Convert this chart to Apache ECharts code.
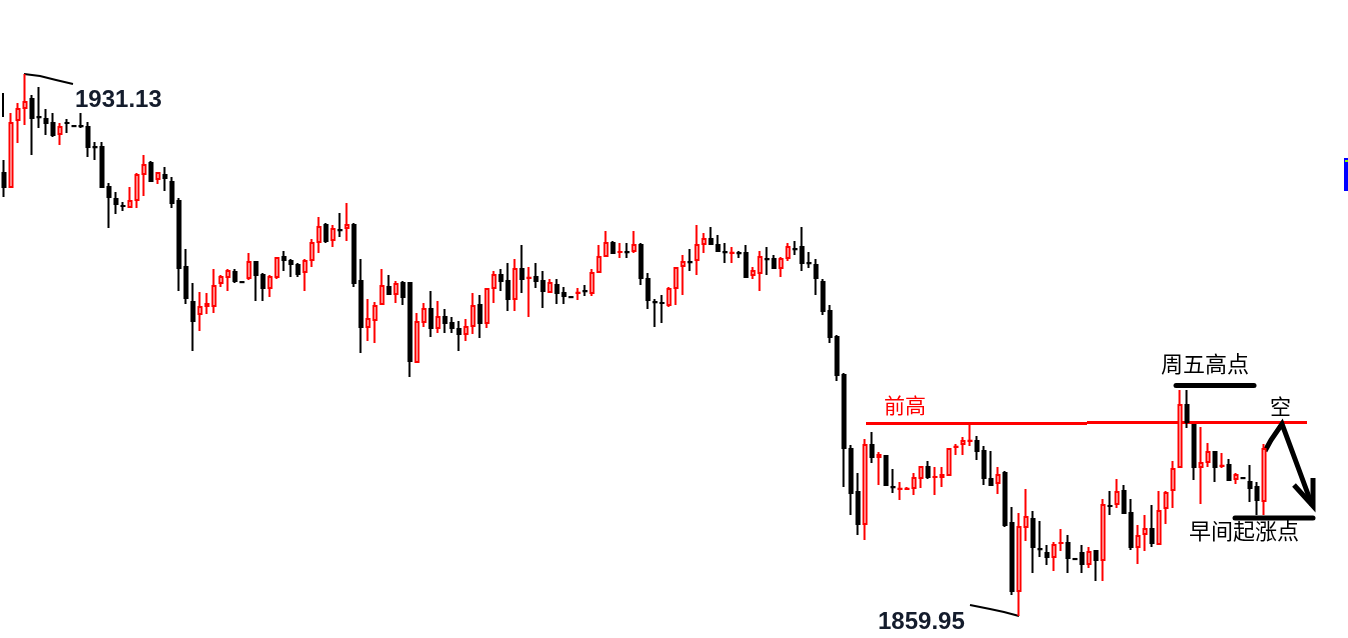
<!DOCTYPE html>
<html><head><meta charset="utf-8">
<script src="https://cdn.jsdelivr.net/npm/echarts@6/dist/echarts.min.js"></script>
<style>html,body{margin:0;padding:0;background:#fff;}#c{width:1348px;height:638px;}</style>
</head><body><div id="c"></div>
<script>
// Candle values, [index order]
const opens = [1918.13,1916.29,1925.09,1926.67,1927.85,1925.48,1925.22,1924.70,1923.25,1924.70,1924.30,1924.30,1924.17,1921.54,1921.54,1916.29,1914.71,1913.80,1913.67,1914.58,
1918.00,1919.44,1917.34,1917.87,1916.95,1914.45,1905.78,1901.19,1899.61,1900.66,1900.66,1903.68,1904.47,1905.13,1903.81,1904.34,1906.44,1904.73,1903.02,1904.47,
1907.10,1906.57,1906.05,1905.13,1906.70,1909.07,1911.30,1909.33,1910.64,1910.91,1911.30,1903.94,1897.90,1898.82,1900.93,1903.16,1902.24,1903.68,1903.68,1893.31,
1898.56,1900.27,1897.77,1899.22,1898.43,1897.64,1896.98,1898.04,1900.79,1898.43,1903.02,1904.73,1903.94,1901.58,1905.52,1904.34,1904.47,1903.94,1902.50,1903.42,
1902.37,1901.84,1902.37,1902.63,1902.37,1905.13,1907.23,1908.94,1907.75,1907.75,1907.89,1908.67,1904.21,1901.19,1901.06,1900.79,1903.02,1905.92,1906.44,1906.70,
1908.81,1909.46,1908.67,1907.75,1907.62,1907.62,1907.62,1904.73,1905.00,1906.83,1906.83,1905.65,1906.97,1908.15,1908.41,1906.31,1906.05,1903.81,1900.01,1896.59,
1891.60,1881.88,1876.23,1872.03,1882.41,1880.83,1880.96,1876.89,1876.63,1876.63,1876.76,1878.07,1879.52,1878.20,1878.20,1878.47,1882.15,1882.54,1882.93,1882.93,
1881.62,1877.94,1877.42,1878.73,1872.16,1863.24,1871.64,1872.69,1868.75,1868.22,1867.70,1869.53,1869.53,1867.44,1868.22,1866.78,1868.49,1867.30,1874.40,1874.66,
1876.37,1873.48,1869.01,1870.72,1871.37,1869.40,1874.13,1876.50,1879.52,1887.66,1885.03,1879.52,1880.17,1881.49,1879.65,1879.78,1877.94,1878.07,1877.55,1876.89,
1875.05];
const closes = [1916.29,1924.70,1926.53,1927.45,1925.35,1925.46,1924.70,1923.12,1924.17,1924.68,1924.28,1924.28,1921.54,1921.52,1916.29,1914.97,1914.06,1913.78,1914.45,1917.87,
1919.18,1917.08,1918.13,1917.47,1914.19,1905.65,1901.71,1898.69,1900.53,1900.93,1903.29,1904.47,1905.26,1903.94,1903.79,1906.44,1904.73,1903.02,1904.47,1906.97,
1906.70,1906.18,1904.87,1906.57,1908.94,1911.04,1909.20,1910.77,1910.62,1911.30,1903.68,1897.90,1898.96,1900.66,1903.29,1902.24,1903.55,1901.84,1893.44,1898.56,
1900.27,1897.77,1899.22,1898.43,1897.77,1896.98,1897.90,1900.66,1898.43,1902.89,1904.73,1903.94,1901.58,1905.52,1904.21,1904.36,1903.94,1902.63,1903.68,1902.37,
1901.97,1901.82,1902.39,1902.61,1905.00,1907.10,1908.94,1907.62,1907.77,1907.73,1908.67,1904.34,1901.45,1901.17,1901.04,1902.89,1905.65,1906.44,1906.42,1908.67,
1909.46,1908.81,1907.89,1907.73,1907.64,1907.60,1904.47,1905.26,1907.10,1906.81,1905.65,1906.83,1908.41,1908.13,1906.31,1906.29,1904.34,1900.01,1896.59,1891.60,
1882.01,1876.10,1872.03,1882.41,1880.83,1881.10,1877.15,1876.87,1876.65,1876.65,1878.07,1879.52,1878.20,1878.22,1878.47,1881.88,1882.17,1882.93,1882.95,1881.62,
1878.07,1877.15,1878.47,1871.90,1863.24,1871.64,1872.95,1869.01,1868.73,1867.70,1869.27,1869.55,1867.57,1867.42,1866.78,1868.36,1867.30,1874.53,1874.38,1876.23,
1873.48,1869.01,1870.45,1871.37,1869.53,1873.74,1876.10,1879.26,1887.66,1885.43,1879.52,1880.04,1881.49,1879.52,1879.67,1877.81,1878.47,1878.05,1876.76,1875.18,
1881.88];
const lows = [1914.97,1916.29,1922.07,1924.43,1920.49,1924.04,1923.12,1922.86,1921.81,1923.38,1924.28,1924.04,1920.23,1919.84,1916.16,1910.91,1912.74,1913.14,1913.53,1913.53,
1915.11,1916.95,1916.69,1915.77,1913.53,1902.63,1900.93,1894.75,1897.38,1899.61,1899.74,1903.16,1902.63,1903.68,1903.79,1904.08,1901.32,1901.32,1901.84,1904.21,
1905.26,1904.47,1904.47,1902.63,1905.78,1907.62,1908.94,1908.41,1909.72,1909.20,1903.16,1894.49,1896.07,1895.80,1900.93,1902.24,1901.06,1900.79,1891.34,1893.31,
1897.90,1896.59,1897.12,1897.12,1897.12,1894.75,1896.07,1896.98,1896.46,1897.77,1901.06,1902.63,1900.01,1900.01,1902.37,1899.22,1903.02,1900.40,1902.37,1900.93,
1900.93,1901.82,1901.45,1901.97,1901.97,1905.13,1907.23,1907.49,1906.97,1906.97,1907.62,1903.42,1900.27,1897.90,1898.43,1900.53,1900.79,1902.11,1905.26,1904.73,
1907.62,1908.81,1907.89,1906.31,1906.31,1906.97,1904.47,1904.21,1902.63,1904.73,1905.65,1904.47,1906.57,1907.36,1905.26,1905.65,1902.11,1899.48,1895.80,1890.81,
1876.89,1873.21,1870.58,1869.93,1880.04,1877.15,1877.15,1876.10,1875.18,1876.50,1875.84,1876.76,1877.94,1875.84,1876.89,1878.47,1881.10,1881.10,1882.28,1880.44,
1877.15,1877.15,1875.97,1871.64,1862.71,1859.95,1869.80,1865.60,1867.70,1866.65,1865.86,1868.49,1865.60,1867.42,1865.60,1866.25,1864.55,1864.55,1873.21,1874.13,
1873.48,1868.62,1866.78,1868.49,1869.01,1869.40,1872.03,1874.13,1879.39,1884.64,1877.81,1874.66,1879.52,1877.55,1879.39,1877.81,1877.28,1878.05,1874.92,1873.21,
1873.21];
const highs = [1919.84,1926.01,1927.32,1931.13,1928.37,1929.42,1926.53,1926.01,1924.70,1925.22,1924.30,1926.01,1924.83,1922.20,1922.20,1916.82,1915.63,1914.32,1916.29,1918.13,
1920.49,1919.71,1918.26,1918.92,1917.60,1914.84,1908.15,1903.68,1902.50,1902.37,1905.52,1904.73,1905.52,1905.52,1903.81,1907.62,1906.57,1905.00,1904.73,1907.10,
1907.89,1906.83,1906.31,1906.83,1909.46,1912.35,1911.56,1911.30,1912.88,1914.19,1911.56,1906.83,1901.58,1901.19,1905.52,1904.73,1903.94,1903.94,1903.68,1899.74,
1901.06,1902.63,1901.32,1900.27,1899.22,1898.69,1898.96,1902.37,1902.11,1902.89,1905.26,1905.52,1906.31,1906.83,1908.67,1905.78,1906.31,1905.26,1904.21,1904.21,
1903.16,1901.84,1903.02,1903.42,1905.52,1908.67,1910.51,1909.20,1908.94,1908.94,1910.51,1908.94,1905.00,1901.58,1902.11,1903.16,1905.78,1907.36,1908.15,1911.30,
1910.25,1911.04,1909.99,1908.94,1908.41,1907.89,1908.67,1905.78,1907.89,1908.41,1907.36,1907.10,1908.94,1909.20,1911.04,1907.75,1906.83,1904.21,1900.79,1896.85,
1891.86,1882.41,1878.73,1883.19,1884.11,1881.49,1881.10,1879.26,1877.55,1876.89,1878.73,1879.65,1880.31,1879.52,1879.52,1882.01,1882.54,1883.46,1885.17,1883.59,
1882.28,1881.62,1879.52,1878.99,1874.26,1873.48,1876.63,1873.74,1872.43,1869.27,1869.66,1871.37,1870.58,1867.44,1869.27,1869.01,1868.49,1875.31,1876.37,1877.94,
1877.15,1875.31,1871.90,1873.21,1874.53,1876.37,1876.37,1880.31,1889.63,1889.63,1885.03,1884.77,1882.67,1881.49,1881.36,1880.57,1878.73,1878.07,1879.78,1877.55,
1882.54];
const slotCount = 192; // category slots across the plot (data fills the first ones)
const categories = Array.from({length: slotCount}, (_, i) => 'K' + (i + 1));
const labelHigh = '1931.13';
const labelLow = '1859.95';

const candleData = opens.map((o, i) => [o, closes[i], lows[i], highs[i]]);

const chart = echarts.init(document.getElementById('c'), null, {renderer: 'canvas'});
const cjk = '"Noto Sans CJK SC", sans-serif';
const numFont = 'bold 24px "Liberation Sans", Arial, sans-serif';
chart.setOption({
  animation: false,
  backgroundColor: '#ffffff',
  grid: {left: 0.5, top: 0, width: 1344, height: 638},
  xAxis: {type: 'category', data: categories, boundaryGap: true, show: false},
  yAxis: {type: 'value', min: 1857.06, max: 1940.85, show: false, scale: true},
  series: [{
    type: 'candlestick',
    data: candleData,
    barWidth: 4,
    itemStyle: {
      color: '#ffffff', color0: '#000000',
      borderColor: '#ff0000', borderColor0: '#000000',
      borderWidth: 2
    }
  }],
  graphic: {elements: [
    {type: 'line', shape: {x1: 3, y1: 93, x2: 3, y2: 117}, style: {stroke: '#000', lineWidth: 2}},
    {type: 'polyline', shape: {points: [[24, 74], [40, 76], [56, 80], [73, 84]]}, style: {stroke: '#000', lineWidth: 2, fill: null}},
    {type: 'text', x: 75, y: 100, style: {text: labelHigh, font: numFont, fill: '#141c2c', verticalAlign: 'middle', align: 'left'}},
    {type: 'polyline', shape: {points: [[970, 605], [990, 609], [1004, 612], [1019, 616]]}, style: {stroke: '#000', lineWidth: 2, fill: null}},
    {type: 'text', x: 878, y: 622, style: {text: labelLow, font: numFont, fill: '#141c2c', verticalAlign: 'middle', align: 'left'}},
    {type: 'line', shape: {x1: 866, y1: 423.5, x2: 1087, y2: 423.5}, style: {stroke: '#ff0000', lineWidth: 3}},
    {type: 'line', shape: {x1: 1087, y1: 422.5, x2: 1307, y2: 422.5}, style: {stroke: '#ff0000', lineWidth: 3}},
    {type: 'text', x: 884, y: 405, style: {text: '前高', font: '21px ' + cjk, fill: '#ff0000', verticalAlign: 'middle', align: 'left'}},
    {type: 'text', x: 1161, y: 364, style: {text: '周五高点', font: '22px ' + cjk, fill: '#000', verticalAlign: 'middle', align: 'left'}},
    {type: 'line', shape: {x1: 1176, y1: 385.5, x2: 1254, y2: 385.5}, style: {stroke: '#000', lineWidth: 5, lineCap: 'round'}},
    {type: 'text', x: 1270, y: 406, style: {text: '空', font: '21px ' + cjk, fill: '#000', verticalAlign: 'middle', align: 'left'}},
    {type: 'polyline', shape: {points: [[1265, 451], [1271, 440], [1282, 424], [1312, 505]]}, style: {stroke: '#000', lineWidth: 5, lineJoin: 'miter', fill: null}},
    {type: 'polyline', shape: {points: [[1294, 485], [1313, 506], [1313, 478]]}, style: {stroke: '#000', lineWidth: 5, lineJoin: 'miter', fill: null}},
    {type: 'line', shape: {x1: 1235, y1: 518, x2: 1313, y2: 518}, style: {stroke: '#000', lineWidth: 5, lineCap: 'round'}},
    {type: 'text', x: 1189, y: 531, style: {text: '早间起涨点', font: '22px ' + cjk, fill: '#000', verticalAlign: 'middle', align: 'left'}},
    {type: 'rect', shape: {x: 1344, y: 158, width: 4, height: 33}, style: {fill: '#0000ff'}},
    {type: 'rect', shape: {x: 1345, y: 160, width: 3, height: 2}, style: {fill: '#8cff00'}}
  ]}
});
</script>
</body></html>
